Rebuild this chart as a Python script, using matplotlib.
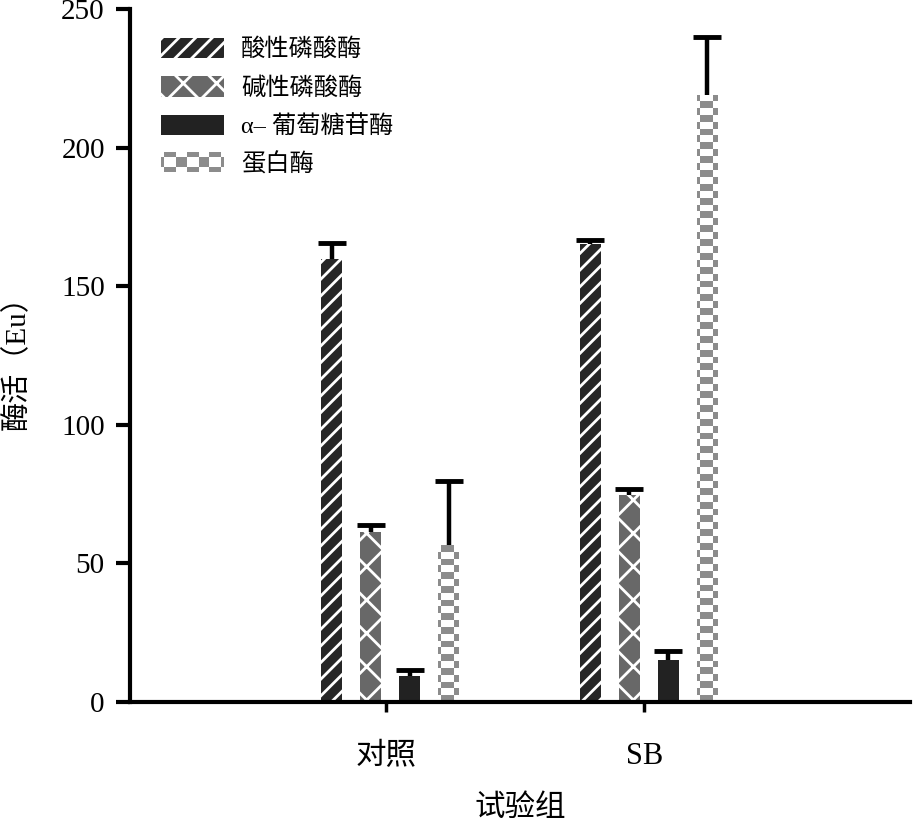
import numpy as np
import matplotlib
matplotlib.use('Agg')
from matplotlib import pyplot as plt
from matplotlib.colors import ListedColormap
from matplotlib.patches import Rectangle

plt.rcParams['font.family'] = ['Liberation Serif', 'Noto Sans CJK SC']
plt.rcParams['hatch.linewidth'] = 2.0

groups = ['对照', 'SB']
series = ['酸性磷酸酶', '碱性磷酸酶', 'α– 葡萄糖苷酶', '蛋白酶']
values = [
    [160.0, 165.2],   # acid phosphatase
    [61.5, 74.5],     # alkaline phosphatase
    [9.4, 15.2],      # alpha-glucosidase
    [56.5, 219.0],    # protease
]
errors = [
    [5.6, 1.5],
    [2.4, 2.3],
    [2.1, 3.2],
    [23.2, 21.0],
]

colors = ['#262626', '#686868', '#222222', 'white']
hatches = ['//', 'x', None, None]
checker_gray = '#8c8c8c'

fig = plt.figure(figsize=(9.14, 8.22), dpi=100)
ax = fig.add_axes([0.142, 0.146, 0.854, 0.843])

x = np.arange(len(groups))
width = 0.081
step = 0.151
shift = 0.017

bar_sets = []
for i, name in enumerate(series):
    pos = x + (i - 1.5) * step + shift
    bars = ax.bar(pos, values[i], width, color=colors[i], hatch=hatches[i],
                  edgecolor='white' if hatches[i] else colors[i], linewidth=0,
                  label=name, zorder=2)
    eb = ax.errorbar(pos, values[i], yerr=[np.zeros(len(groups)), errors[i]],
                     fmt='none', ecolor='black', elinewidth=3.2, capsize=10,
                     capthick=3.5, zorder=3)
    # only the upper cap is drawn in the original
    eb[1][0].set_visible(False)
    bar_sets.append(bars)

# checkerboard fill for protease bars, clipped to the bar shape
cell = 2.5
subcols = np.array([0, 1, 1, 1, 1, 1, 2, 2])   # narrow / wide / medium column
for rect in bar_sets[3]:
    x0, y0 = rect.get_x(), rect.get_y()
    w, h = rect.get_width(), rect.get_height()
    nrows = max(1, int(round(h / cell)))
    board = (np.arange(nrows)[:, None] + subcols[None, :]) % 2
    im = ax.imshow(board, extent=[x0, x0 + w, y0, y0 + h], origin='lower',
                   cmap=ListedColormap(['white', checker_gray]), aspect='auto',
                   interpolation='nearest', zorder=2.1)
    im.set_clip_path(rect)


class CheckerHandler:
    def legend_artist(self, legend, orig_handle, fontsize, handlebox):
        w, h = handlebox.width, handlebox.height
        cw = np.array([1, 4, 3.5, 4, 3.5, 4, 1.0])
        rh = np.array([1, 2, 1.0])
        xe = np.concatenate([[0], np.cumsum(cw)]) / cw.sum() * w
        ye = np.concatenate([[0], np.cumsum(rh)]) / rh.sum() * h
        for r in range(len(rh)):
            for c in range(len(cw)):
                col = checker_gray if (r + c) % 2 else 'white'
                p = Rectangle([xe[c], ye[r]], xe[c + 1] - xe[c], ye[r + 1] - ye[r],
                              facecolor=col, edgecolor='none',
                              transform=handlebox.get_transform())
                handlebox.add_artist(p)
        return p


leg = ax.legend(loc='upper left', bbox_to_anchor=(0.012, 0.99), frameon=False,
                fontsize=17.5, handlelength=2.6, handleheight=0.9,
                labelspacing=0.62, handletextpad=0.7,
                handler_map={bar_sets[3]: CheckerHandler()})

ax.set_xlim(-0.992, 2.03)
ax.set_ylim(0, 250)
ax.set_yticks([0, 50, 100, 150, 200, 250])
ax.set_xticks(x)
ax.set_xticklabels(groups)

for side in ['top', 'right']:
    ax.spines[side].set_visible(False)
for side in ['left', 'bottom']:
    ax.spines[side].set_linewidth(3)

ax.tick_params(axis='y', direction='out', length=10, width=3, labelsize=21, pad=8)
ax.tick_params(axis='x', direction='out', length=7, width=2.5, labelsize=22, pad=22)

ax.set_ylabel('酶活（Eu）', fontsize=21, labelpad=22)
ax.set_xlabel('试验组', fontsize=22, labelpad=16)

fig.savefig('out.png', dpi=100)
